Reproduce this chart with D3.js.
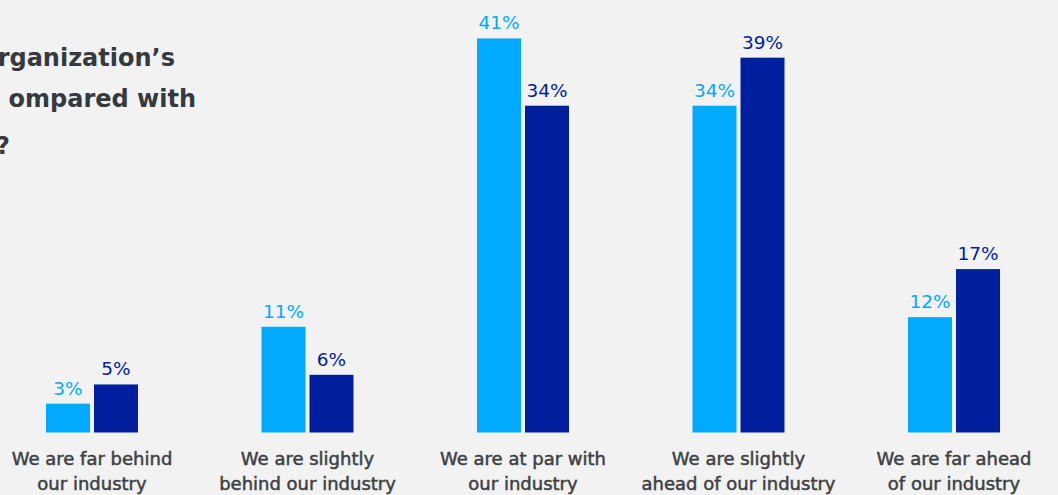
<!DOCTYPE html>
<html>
<head>
<meta charset="utf-8">
<script src="https://cdn.jsdelivr.net/npm/d3@7"></script>
<style>
  html, body { margin: 0; padding: 0; background: #f2f2f2; }
  svg { display: block; }
</style>
</head>
<body>
<svg id="chart" width="1058" height="495"></svg>
<script>
const categories = [
  ["We are far behind", "our industry"],
  ["We are slightly", "behind our industry"],
  ["We are at par with", "our industry"],
  ["We are slightly", "ahead of our industry"],
  ["We are far ahead", "of our industry"]
];
const seriesNames = ["Series A", "Series B"];
const seriesA = [3, 11, 41, 34, 12];
const seriesB = [5, 6, 34, 39, 17];
const titleLines = ["rganization’s", "ompared with", "?"];

const colors = ["#00aaff", "#001f9f"];
const W = 1058, H = 495;
const FONT = "'DejaVu Sans', Verdana, sans-serif";
const svg = d3.select("#chart");
svg.append("rect").attr("width", W).attr("height", H).attr("fill", "#f2f2f2");

const catKeys = categories.map(c => c.join(" "));
const x0 = d3.scaleBand().domain(catKeys).range([-15.75, 1061.75]).padding(0);
const x1 = d3.scaleBand().domain(seriesNames).range([-46, 46]).paddingInner(1/12).paddingOuter(0);
const y = d3.scaleLinear().domain([0, 45]).range([432.5, 0]);

const data = catKeys.map((k, i) => ({ key: k, lines: categories[i], vals: [seriesA[i], seriesB[i]] }));

const g = svg.append("g");
const groups = g.selectAll("g.grp").data(data).join("g")
  .attr("class", "grp")
  .attr("transform", d => `translate(${x0(d.key) + x0.bandwidth() / 2},0)`);

groups.selectAll("rect").data(d => d.vals.map((v, j) => ({ v, s: seriesNames[j], j })))
  .join("rect")
  .attr("x", d => x1(d.s))
  .attr("width", x1.bandwidth())
  .attr("y", d => y(d.v))
  .attr("height", d => y(0) - y(d.v))
  .attr("fill", d => colors[d.j]);

groups.selectAll("text.val").data(d => d.vals.map((v, j) => ({ v, s: seriesNames[j], j })))
  .join("text")
  .attr("class", "val")
  .attr("x", d => x1(d.s) + x1.bandwidth() / 2)
  .attr("y", d => y(d.v) - 9)
  .attr("text-anchor", "middle")
  .attr("font-family", FONT)
  .attr("font-size", 18.5)
  .attr("fill", d => colors[d.j])
  .text(d => d.v + "%");

const lab = groups.append("text")
  .attr("text-anchor", "middle")
  .attr("font-family", FONT)
  .attr("font-size", 18)
  .attr("fill", "#3d4145")
  .attr("stroke", "#3d4145")
  .attr("stroke-width", 0.5);
lab.selectAll("tspan").data(d => d.lines).join("tspan")
  .attr("x", 0)
  .attr("y", (d, i) => 465 + i * 25)
  .text(d => d);

svg.append("g").selectAll("text").data(titleLines).join("text")
  .attr("x", (d, i) => [175, 196, 10][i])
  .attr("y", (d, i) => [66, 107, 154][i])
  .attr("text-anchor", "end")
  .attr("font-family", FONT)
  .attr("font-size", 24)
  .attr("font-weight", 700)
  .attr("fill", "#353a40")
  .text(d => d);
</script>
</body>
</html>
